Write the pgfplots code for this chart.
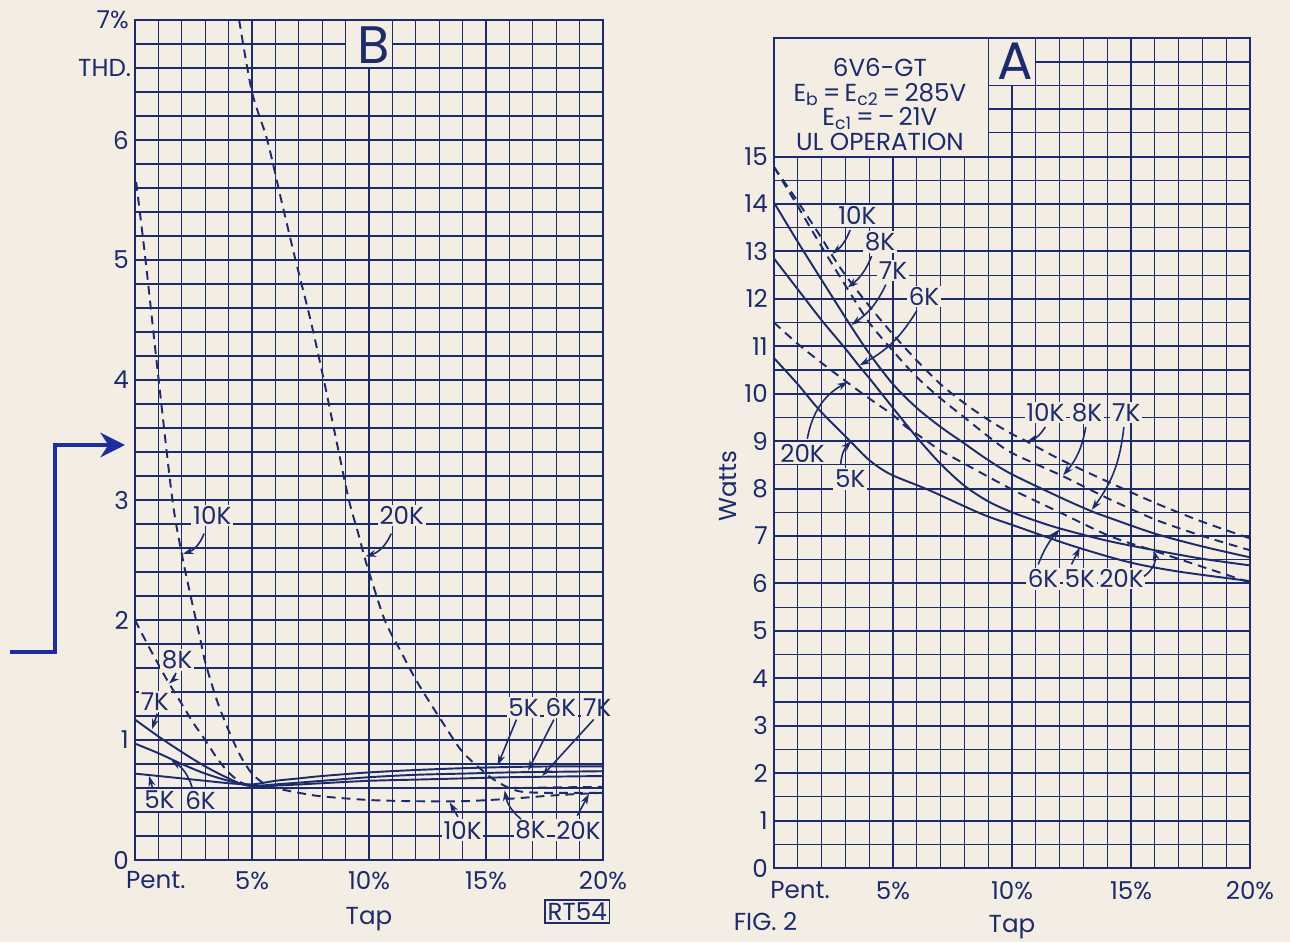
\documentclass[border=0pt]{standalone}
\usepackage{fontspec}
\setmainfont{Poppins}
\usepackage{pgfplots}
\pgfplotsset{compat=1.18}
\usetikzlibrary{arrows.meta}

\definecolor{ink}{HTML}{1C2B6B}
\definecolor{paper}{HTML}{F3EDE3}
\definecolor{pen}{HTML}{1F2E9E}

\newcommand\tk{\fontsize{14}{16}\selectfont}

\tikzset{
  lab/.style={font=\tk, text=ink, fill=paper, inner sep=1pt},
  arr/.style={draw=ink, line width=0.9pt, -{Stealth[length=6pt,width=4pt]}},
}
\pgfplotsset{
  chart/.style={
    scale only axis, anchor=south west, clip=false,
    xmin=0, xmax=20, xtick={0,5,10,15,20}, minor x tick num=4,
    grid=both,
    major grid style={draw=ink, line width=1.1pt},
    minor grid style={draw=ink, line width=0.6pt},
    axis line style={draw=ink, line width=1.6pt},
    major tick length=0pt, minor tick length=0pt,
    ticklabel style={font=\tk, text=ink},
    label style={font=\tk, text=ink},
  },
  solidk/.style={ink, line width=1.1pt, smooth},
  dashk/.style={ink, line width=1.1pt, smooth, dash pattern=on 5pt off 3.5pt},
}

\begin{document}
\begin{tikzpicture}
\path[use as bounding box, fill=paper] (0,0) rectangle (25.8,18.84);

% pen mark in the margin
\draw[pen, line width=2.4pt, -{Stealth[length=14pt,width=14pt]}]
  (0.2,5.8) -- (1.1,5.8) -- (1.1,9.94) -- (2.5,9.94);

% ---------------- B : distortion ----------------
\begin{axis}[chart, at={(2.7cm,1.64cm)}, width=9.36cm, height=16.8cm,
  ymin=0, ymax=7, ytick={0,1,...,7}, minor y tick num=4,
  yticklabels={0,1,2,3,4,5,6,7\%},
  xticklabels={\makebox[0pt][l]{\kern-5pt Pent.},5\%,10\%,15\%,20\%},
  xticklabel style={yshift=-3pt},
  xlabel={Tap}, xlabel style={yshift=-3pt}]
\fill[paper, draw=ink, line width=0.6pt] (axis cs:9,6.6) rectangle (axis cs:11,7);
\node[font=\fontsize{30}{32}\selectfont, text=ink] at (axis cs:10.2,6.79) {B};

% 5K
\addplot[solidk] coordinates {(0,0.72)(1,0.70)(2,0.68)(3,0.66)(4,0.64)(5,0.63)(6,0.66)(7,0.68)(8,0.70)(10,0.73)(12,0.75)(14,0.765)(16,0.775)(18,0.78)(20,0.78)};
% 6K
\addplot[solidk] coordinates {(0,0.97)(1,0.89)(2,0.80)(3,0.72)(4,0.66)(5,0.62)(6,0.63)(8,0.66)(10,0.69)(12,0.71)(14,0.72)(16,0.73)(18,0.735)(20,0.74)};
% 7K
\addplot[solidk] coordinates {(0,1.17)(1,1.03)(2,0.90)(3,0.78)(4,0.68)(4.8,0.62)(6,0.62)(8,0.64)(10,0.66)(12,0.67)(14,0.68)(16,0.69)(18,0.695)(20,0.70)};
% 8K
\addplot[dashk] coordinates {(0,2.0)(0.5,1.81)(1,1.63)(1.43,1.48)(2,1.30)(2.5,1.14)(3,1.0)(3.5,0.85)(4,0.73)(4.5,0.65)(5,0.62)(6,0.60)(8,0.60)(10,0.60)(12,0.60)(14,0.60)(16,0.60)(18,0.605)(20,0.61)};
% 10K
\addplot[dashk] coordinates {(0.05,5.65)(0.45,5.0)(1.0,4.02)(1.6,3.0)(2.0,2.55)(2.4,2.18)(2.8,1.83)(3.0,1.65)(3.5,1.33)(4.0,1.08)(4.5,0.87)(5.0,0.72)(5.5,0.64)(6,0.60)(7,0.56)(8,0.53)(10,0.50)(12,0.49)(14,0.49)(16,0.51)(18,0.54)(20,0.56)};
% 20K
\addplot[dashk] coordinates {(4.45,7.0)(5.0,6.4)(5.65,6.0)(6.25,5.5)(6.86,5.0)(7.5,4.5)(8.07,4.0)(8.6,3.5)(9.14,3.0)(9.5,2.75)(9.8,2.53)(10.0,2.4)(10.67,2.0)(11.3,1.76)(12.1,1.47)(13.2,1.13)(14.0,0.9)(15.0,0.72)(15.5,0.65)(16,0.60)(16.5,0.57)(17.5,0.56)(20,0.56)};

\node[lab] at (axis cs:3.3,2.87) {10K};
\draw[arr] (axis cs:2.95,2.72) to[bend left=25] (axis cs:2.05,2.55);
\node[lab] at (axis cs:11.4,2.87) {20K};
\draw[arr] (axis cs:10.95,2.72) to[bend left=25] (axis cs:9.85,2.53);
\node[lab] at (axis cs:1.8,1.67) {8K};
\draw[arr] (axis cs:1.75,1.56) to[bend left=15] (axis cs:1.45,1.47);
\node[lab] at (axis cs:0.85,1.32) {7K};
\draw[arr] (axis cs:0.95,1.22) -- (axis cs:0.73,1.09);
\node[lab] at (axis cs:1.05,0.5) {5K};
\draw[arr] (axis cs:0.75,0.6) -- (axis cs:0.6,0.7);
\node[lab] at (axis cs:2.8,0.5) {6K};
\draw[arr] (axis cs:2.45,0.6) to[bend right=20] (axis cs:1.55,0.83);
\node[lab] at (axis cs:16.6,1.27) {5K};
\node[lab] at (axis cs:18.2,1.27) {6K};
\node[lab] at (axis cs:19.75,1.27) {7K};
\draw[arr] (axis cs:16.3,1.17) -- (axis cs:15.5,0.79);
\draw[arr] (axis cs:17.9,1.17) -- (axis cs:16.8,0.745);
\draw[arr] (axis cs:19.6,1.17) -- (axis cs:17.4,0.70);
\node[lab] at (axis cs:14.0,0.25) {10K};
\draw[arr] (axis cs:13.8,0.36) -- (axis cs:13.45,0.48);
\node[lab] at (axis cs:16.9,0.25) {8K};
\draw[arr] (axis cs:16.5,0.34) to[bend left=20] (axis cs:15.8,0.58);
\node[lab] at (axis cs:18.95,0.25) {20K};
\draw[arr] (axis cs:18.9,0.37) -- (axis cs:19.4,0.55);

\node[font=\tk, text=ink, anchor=east] at (axis cs:0.1,6.6) {THD.};
\node[font=\tk, text=ink, draw=ink, line width=0.9pt, inner sep=1.5pt] at (axis cs:18.9,-0.43) {RT54};
\draw[ink, line width=1.6pt] (rel axis cs:0,0) rectangle (rel axis cs:1,1);
\end{axis}

% ---------------- A : power ----------------
\begin{axis}[chart, at={(15.48cm,1.48cm)}, width=9.52cm, height=16.6cm,
  ymin=0, ymax=17.5, ytick={0,1,...,17}, minor y tick num=1,
  yticklabels={0,1,2,3,4,5,6,7,8,9,10,11,12,13,14,15,{},{}},
  xticklabels={\makebox[0pt][l]{\kern-2pt Pent.},5\%,10\%,15\%,20\%},
  xticklabel style={yshift=-4pt},
  xlabel={Tap}, xlabel style={yshift=-2pt}]
\fill[paper, draw=ink, line width=0.6pt] (axis cs:0,15) rectangle (axis cs:9,17.5);
\fill[paper, draw=ink, line width=0.6pt] (axis cs:9,16.5) rectangle (axis cs:11,17.5);
\node[font=\fontsize{30}{32}\selectfont, text=ink] at (axis cs:10.15,17.0) {A};
\node[font=\tk, text=ink, align=center, inner sep=0pt] at (axis cs:4.45,16.1)
  {6V6-GT\\[-2pt]
   E\textsubscript{b}\,=\,E\textsubscript{c2}\,=\,285V\\[-2pt]
   E\textsubscript{c1}\,=\,--\,21V\\[-2pt]
   UL OPERATION};

% 5K
\addplot[solidk] coordinates {(0,10.75)(1,10.2)(1.9,9.66)(3.2,9.0)(4,8.6)(4.9,8.3)(6.5,7.97)(8.7,7.47)(10.2,7.2)(12.5,6.8)(14.9,6.45)(17,6.25)(20,6.05)};
% 6K
\addplot[solidk] coordinates {(0,12.85)(1,12.2)(2,11.55)(3,10.95)(3.55,10.6)(4,10.33)(5,9.7)(6,9.08)(7,8.52)(8,8.06)(9,7.73)(10,7.5)(11,7.32)(12,7.16)(14,6.9)(16,6.7)(18,6.52)(20,6.38)};
% 7K
\addplot[solidk] coordinates {(0,14.03)(1,13.2)(2,12.4)(3.2,11.45)(4,10.85)(5,10.2)(6,9.7)(7,9.3)(8,8.95)(9,8.6)(10,8.3)(12,7.82)(13.3,7.53)(14,7.4)(16,7.05)(18,6.78)(20,6.55)};
% 8K
\addplot[dashk] coordinates {(0,14.78)(1,13.95)(2,13.1)(3.05,12.24)(4,11.5)(5,10.9)(6,10.35)(7,9.9)(8,9.5)(9,9.1)(10,8.75)(12.1,8.27)(14,7.8)(16,7.35)(18,7.0)(20,6.7)};
% 10K
\addplot[dashk] coordinates {(0,14.78)(1,14.05)(2,13.28)(2.4,12.95)(3,12.5)(4,11.85)(5,11.25)(6,10.7)(7,10.2)(8,9.8)(9,9.45)(10,9.15)(10.6,9.0)(12,8.62)(14,8.15)(16,7.7)(18,7.3)(20,6.95)};
% 20K
\addplot[dashk] coordinates {(0,11.5)(1,11.05)(2,10.65)(3.1,10.23)(4,9.9)(5,9.55)(5.55,9.3)(6,9.15)(7,8.8)(7.8,8.58)(9,8.25)(10.2,7.93)(12,7.5)(14.1,7.0)(15.9,6.7)(18,6.35)(20,6.02)};

\node[lab] at (axis cs:3.5,13.75) {10K};
\draw[arr] (axis cs:3.2,13.45) to[bend left=15] (axis cs:2.45,12.95);
\node[lab] at (axis cs:4.45,13.2) {8K};
\draw[arr] (axis cs:4.1,12.9) to[bend left=15] (axis cs:3.1,12.24);
\node[lab] at (axis cs:5.0,12.6) {7K};
\draw[arr] (axis cs:4.7,12.3) to[bend left=15] (axis cs:3.25,11.45);
\node[lab] at (axis cs:6.3,12.05) {6K};
\draw[arr] (axis cs:6.0,11.75) to[bend left=15] (axis cs:3.6,10.6);
\node[lab] at (axis cs:1.2,8.75) {20K};
\draw[arr] (axis cs:1.4,9.05) to[bend left=25] (axis cs:3.1,10.25);
\node[lab] at (axis cs:3.2,8.2) {5K};
\draw[arr] (axis cs:2.8,8.5) to[bend left=20] (axis cs:3.25,9.0);
\node[lab] at (axis cs:11.4,9.6) {10K};
\node[lab] at (axis cs:13.15,9.6) {8K};
\node[lab] at (axis cs:14.8,9.6) {7K};
\draw[arr] (axis cs:11.4,9.3) to[bend left=20] (axis cs:10.65,9.0);
\draw[arr] (axis cs:13.1,9.3) to[bend left=15] (axis cs:12.15,8.28);
\draw[arr] (axis cs:14.7,9.3) to[bend left=15] (axis cs:13.35,7.55);
\node[lab] at (axis cs:11.3,6.1) {6K};
\node[lab] at (axis cs:12.85,6.1) {5K};
\node[lab] at (axis cs:14.6,6.1) {20K};
\draw[arr] (axis cs:11.1,6.4) to[bend left=10] (axis cs:12.0,7.14);
\draw[arr] (axis cs:12.5,6.4) -- (axis cs:12.85,6.76);
\draw[arr] (axis cs:15.55,6.15) to[bend right=35] (axis cs:15.95,6.7);

\node[font=\tk, text=ink, rotate=90] at (axis cs:-1.95,8.05) {Watts};
\node[font=\tk, text=ink, anchor=west] at (axis cs:-1.95,-1.13) {FIG. 2};
\draw[ink, line width=1.6pt] (rel axis cs:0,0) rectangle (rel axis cs:1,1);
\end{axis}
\end{tikzpicture}
\end{document}
